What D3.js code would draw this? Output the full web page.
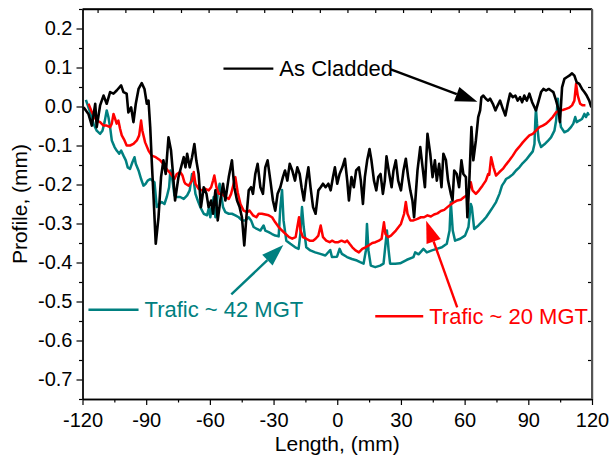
<!DOCTYPE html>
<html>
<head>
<meta charset="utf-8">
<script src="https://cdn.jsdelivr.net/npm/d3@7"></script>
<style>
  body { margin: 0; background: #fff; }
  svg text { font-family: "Liberation Sans", Arial, Helvetica, sans-serif; }
</style>
</head>
<body>
<div id="chart"></div>
<script>
// profile measurements, [length mm, profile mm]
const asCladded = [
  [-119.5,-0.002],[-117.2,-0.019],[-115.6,-0.049],[-114.0,0.007],[-113.3,-0.053],[-111.7,0.003],
  [-110.1,0.028],[-108.6,0.007],[-107.0,0.037],[-105.4,0.033],[-103.9,0.041],[-101.8,0.054],
  [-100.7,0.037],[-99.2,0.033],[-98.4,-0.015],[-97.1,-0.002],[-96.0,-0.040],[-94.9,0.007],
  [-93.6,0.045],[-92.1,0.060],[-90.8,0.045],[-89.7,0.007],[-88.9,0.015],[-88.1,-0.053],
  [-87.4,-0.138],[-86.6,-0.224],[-85.5,-0.352],[-84.2,-0.284],[-83.0,-0.181],[-81.9,-0.138],
  [-80.8,-0.173],[-79.5,-0.079],[-78.3,-0.113],[-77.5,-0.164],[-76.4,-0.241],[-74.8,-0.181],
  [-73.3,-0.150],[-72.3,-0.130],[-71.5,-0.156],[-70.7,-0.121],[-69.5,-0.156],[-68.4,-0.130],
  [-67.3,-0.096],[-66.4,-0.138],[-65.3,-0.173],[-64.2,-0.258],[-62.9,-0.207],[-61.6,-0.224],
  [-60.6,-0.258],[-59.4,-0.241],[-58.5,-0.275],[-57.4,-0.215],[-56.3,-0.292],[-55.1,-0.241],
  [-53.8,-0.198],[-52.7,-0.241],[-51.1,-0.181],[-49.6,-0.138],[-48.5,-0.207],[-47.2,-0.241],
  [-46.0,-0.258],[-44.9,-0.284],[-43.8,-0.356],[-42.8,-0.284],[-41.7,-0.215],[-40.6,-0.207],
  [-39.7,-0.224],[-38.6,-0.173],[-37.5,-0.147],[-36.2,-0.207],[-35.0,-0.224],[-33.9,-0.156],
  [-32.8,-0.138],[-31.5,-0.190],[-30.3,-0.241],[-29.2,-0.267],[-28.1,-0.224],[-26.8,-0.207],
  [-25.6,-0.181],[-24.6,-0.164],[-23.5,-0.190],[-22.4,-0.147],[-21.2,-0.164],[-19.9,-0.190],
  [-18.8,-0.156],[-17.7,-0.173],[-16.8,-0.207],[-15.7,-0.241],[-14.6,-0.190],[-13.6,-0.156],
  [-12.6,-0.207],[-11.4,-0.258],[-10.2,-0.275],[-8.9,-0.215],[-7.8,-0.207],[-6.7,-0.198],
  [-5.5,-0.207],[-4.2,-0.198],[-3.1,-0.215],[-2.0,-0.181],[-1.1,-0.156],[0.0,-0.198],
  [1.1,-0.173],[2.4,-0.156],[3.6,-0.134],[4.7,-0.190],[5.5,-0.241],[6.7,-0.181],
  [7.8,-0.207],[8.9,-0.164],[10.2,-0.156],[11.1,-0.190],[12.1,-0.250],[13.0,-0.181],
  [14.1,-0.138],[15.2,-0.109],[16.1,-0.138],[17.3,-0.190],[18.4,-0.215],[19.3,-0.181],
  [20.4,-0.173],[21.5,-0.224],[22.4,-0.190],[23.2,-0.128],[24.5,-0.173],[25.6,-0.207],
  [26.5,-0.164],[27.6,-0.138],[28.7,-0.190],[30.0,-0.215],[31.2,-0.164],[32.3,-0.134],
  [33.4,-0.181],[34.4,-0.215],[35.4,-0.241],[36.2,-0.284],[37.0,-0.224],[37.8,-0.164],
  [39.1,-0.104],[40.2,-0.156],[41.3,-0.207],[42.5,-0.070],[43.8,-0.121],[44.9,-0.181],
  [46.0,-0.138],[46.9,-0.190],[48.0,-0.147],[49.1,-0.207],[50.0,-0.121],[51.2,-0.138],
  [52.2,-0.190],[53.5,-0.224],[54.3,-0.241],[55.1,-0.164],[56.3,-0.173],[57.4,-0.207],
  [58.5,-0.138],[59.4,-0.173],[60.6,-0.181],[61.3,-0.284],[62.1,-0.207],[63.2,-0.053],
  [64.1,-0.138],[65.3,-0.087],[66.4,-0.027],[67.3,-0.010],[67.9,0.024],[68.8,0.028],
  [70.0,0.020],[71.1,0.015],[72.0,0.020],[73.3,0.007],[74.5,-0.010],[75.6,0.003],
  [76.7,0.015],[78.0,-0.006],[79.2,-0.023],[80.3,0.007],[81.4,0.033],[82.7,0.024],
  [83.9,0.028],[85.0,0.015],[86.1,0.024],[87.1,0.011],[88.1,0.028],[89.3,0.015],
  [90.5,0.033],[91.8,0.011],[92.9,-0.002],[93.6,-0.010],[94.9,0.015],[96.0,0.037],
  [97.1,0.045],[98.4,0.041],[99.6,0.045],[100.7,0.041],[101.8,0.037],[103.1,0.015],
  [104.3,-0.010],[104.9,-0.040],[105.9,0.049],[107.0,0.071],[108.1,0.075],[109.3,0.079],
  [110.6,0.085],[111.7,0.079],[112.8,0.062],[114.0,0.058],[115.3,0.045],[116.4,0.037],
  [117.5,0.028],[118.7,0.015],[119.7,-0.002]
];

const trafic20 = [
  [-117.2,0.007],[-115.9,-0.010],[-114.8,-0.023],[-113.3,-0.036],[-111.7,-0.040],[-110.1,-0.049],
  [-108.6,-0.049],[-107.0,-0.053],[-106.2,-0.044],[-105.4,-0.019],[-104.6,-0.032],[-103.9,-0.044],
  [-103.1,-0.036],[-102.3,-0.057],[-101.5,-0.074],[-100.2,-0.087],[-99.2,-0.100],[-97.6,-0.100],
  [-96.0,-0.096],[-94.4,-0.087],[-93.3,-0.074],[-92.4,-0.036],[-91.8,-0.062],[-90.5,-0.092],
  [-88.9,-0.113],[-87.4,-0.126],[-85.5,-0.130],[-83.4,-0.138],[-81.9,-0.147],[-79.9,-0.164],
  [-78.3,-0.173],[-76.7,-0.186],[-75.6,-0.173],[-74.0,-0.168],[-72.9,-0.177],[-72.0,-0.194],
  [-71.5,-0.198],[-70.0,-0.203],[-68.4,-0.190],[-67.6,-0.168],[-66.8,-0.198],[-65.3,-0.211],
  [-63.7,-0.215],[-62.1,-0.211],[-60.6,-0.215],[-59.4,-0.207],[-58.5,-0.190],[-57.9,-0.177],
  [-56.9,-0.207],[-55.8,-0.224],[-54.3,-0.224],[-52.7,-0.232],[-51.1,-0.237],[-50.0,-0.224],
  [-48.8,-0.198],[-48.0,-0.181],[-46.9,-0.220],[-45.6,-0.250],[-44.1,-0.267],[-42.5,-0.271],
  [-41.3,-0.267],[-39.7,-0.279],[-38.1,-0.284],[-37.0,-0.275],[-35.5,-0.275],[-33.9,-0.277],
  [-32.3,-0.279],[-30.7,-0.284],[-29.2,-0.297],[-27.6,-0.309],[-26.0,-0.318],[-24.3,-0.327],
  [-22.7,-0.335],[-21.2,-0.339],[-19.6,-0.335],[-18.8,-0.309],[-18.0,-0.284],[-17.3,-0.318],
  [-16.2,-0.335],[-14.6,-0.339],[-13.0,-0.344],[-11.4,-0.344],[-10.2,-0.339],[-8.9,-0.331],
  [-7.8,-0.305],[-6.7,-0.335],[-5.2,-0.344],[-3.6,-0.348],[-2.4,-0.344],[-1.1,-0.348],
  [0.5,-0.348],[2.0,-0.344],[3.6,-0.348],[4.7,-0.344],[5.8,-0.352],[7.1,-0.361],
  [8.6,-0.369],[10.2,-0.374],[11.8,-0.365],[13.3,-0.361],[14.9,-0.356],[16.5,-0.350],
  [18.0,-0.348],[19.6,-0.344],[20.9,-0.339],[22.0,-0.297],[22.7,-0.327],[24.0,-0.335],
  [25.3,-0.331],[27.6,-0.318],[30.0,-0.301],[31.5,-0.275],[32.3,-0.245],[33.1,-0.275],
  [34.4,-0.292],[35.9,-0.292],[37.8,-0.288],[39.4,-0.284],[40.9,-0.284],[42.5,-0.279],
  [44.1,-0.282],[45.6,-0.277],[47.2,-0.274],[48.8,-0.268],[50.4,-0.265],[51.9,-0.258],
  [53.5,-0.251],[55.1,-0.245],[56.6,-0.241],[58.2,-0.239],[59.8,-0.232],[61.0,-0.228],
  [62.1,-0.211],[62.9,-0.194],[63.7,-0.215],[65.3,-0.224],[66.8,-0.215],[68.4,-0.203],
  [70.0,-0.190],[71.1,-0.173],[71.6,-0.175],[72.5,-0.130],[73.6,-0.156],[74.8,-0.177],
  [76.4,-0.168],[78.0,-0.160],[79.5,-0.149],[81.1,-0.138],[82.7,-0.126],[84.2,-0.113],
  [85.8,-0.103],[87.4,-0.092],[88.9,-0.083],[90.5,-0.074],[92.1,-0.070],[93.6,-0.062],
  [95.2,-0.053],[96.8,-0.049],[98.4,-0.044],[99.9,-0.036],[101.5,-0.027],[103.1,-0.015],
  [104.6,-0.010],[106.2,-0.009],[107.8,-0.006],[109.3,-0.003],[110.6,0.003],[111.7,0.015],
  [112.5,0.058],[113.3,0.028],[114.4,0.007],[115.6,0.003],[116.9,0.003]
];

const trafic42 = [
  [-118.4,0.017],[-117.2,-0.002],[-115.9,-0.023],[-114.8,-0.044],[-113.3,-0.062],[-111.7,-0.070],
  [-110.6,-0.062],[-109.6,-0.040],[-108.6,-0.010],[-107.8,-0.027],[-107.0,-0.053],[-106.2,-0.087],
  [-104.9,-0.104],[-103.9,-0.113],[-102.7,-0.121],[-101.8,-0.113],[-100.7,-0.126],[-99.6,-0.138],
  [-98.7,-0.156],[-97.6,-0.160],[-96.5,-0.143],[-95.5,-0.130],[-94.9,-0.147],[-93.6,-0.164],
  [-92.4,-0.186],[-91.3,-0.203],[-90.2,-0.198],[-89.3,-0.190],[-88.1,-0.186],[-87.1,-0.190],
  [-86.1,-0.194],[-85.0,-0.258],[-83.9,-0.250],[-82.7,-0.245],[-81.4,-0.250],[-80.3,-0.232],
  [-79.2,-0.207],[-78.6,-0.164],[-77.6,-0.190],[-76.7,-0.228],[-75.6,-0.232],[-74.0,-0.232],
  [-72.3,-0.237],[-70.7,-0.228],[-69.5,-0.215],[-68.4,-0.173],[-67.6,-0.190],[-66.8,-0.224],
  [-65.7,-0.241],[-64.5,-0.258],[-62.9,-0.275],[-61.3,-0.279],[-60.4,-0.258],[-59.8,-0.284],
  [-59.0,-0.258],[-58.2,-0.232],[-57.4,-0.284],[-56.3,-0.224],[-55.4,-0.198],[-54.7,-0.224],
  [-53.8,-0.258],[-52.7,-0.271],[-51.1,-0.275],[-49.6,-0.275],[-48.0,-0.279],[-46.4,-0.284],
  [-44.9,-0.292],[-43.3,-0.292],[-41.7,-0.284],[-40.6,-0.292],[-39.4,-0.309],[-37.8,-0.314],
  [-36.2,-0.318],[-34.7,-0.305],[-33.9,-0.318],[-32.3,-0.322],[-30.7,-0.327],[-29.2,-0.331],
  [-27.6,-0.333],[-26.8,-0.258],[-26.0,-0.214],[-25.3,-0.292],[-24.0,-0.344],[-22.1,-0.352],
  [-19.8,-0.361],[-18.2,-0.365],[-17.4,-0.327],[-16.6,-0.258],[-15.8,-0.309],[-14.6,-0.361],
  [-12.7,-0.369],[-10.4,-0.374],[-8.0,-0.378],[-5.6,-0.382],[-3.3,-0.368],[-2.5,-0.386],
  [-0.1,-0.385],[1.1,-0.365],[2.2,-0.378],[4.6,-0.386],[6.9,-0.391],[9.3,-0.395],
  [10.8,-0.399],[12.4,-0.403],[13.5,-0.369],[14.0,-0.301],[14.7,-0.369],[15.8,-0.408],
  [17.9,-0.412],[20.2,-0.408],[21.8,-0.403],[23.4,-0.318],[24.2,-0.369],[24.9,-0.403],
  [27.3,-0.403],[29.6,-0.402],[32.8,-0.393],[35.9,-0.386],[36.7,-0.374],[38.3,-0.379],
  [40.6,-0.365],[42.2,-0.374],[44.6,-0.369],[46.9,-0.365],[49.3,-0.361],[51.6,-0.352],
  [52.9,-0.318],[53.5,-0.245],[54.4,-0.318],[55.5,-0.344],[57.9,-0.339],[60.2,-0.331],
  [61.8,-0.309],[62.9,-0.250],[63.4,-0.258],[64.5,-0.314],[66.5,-0.305],[68.8,-0.292],
  [70.1,-0.284],[71.7,-0.271],[73.3,-0.258],[74.8,-0.245],[76.4,-0.224],[77.6,-0.203],
  [78.7,-0.194],[79.5,-0.186],[81.1,-0.181],[82.7,-0.174],[84.2,-0.164],[85.8,-0.156],
  [87.4,-0.145],[88.9,-0.137],[90.5,-0.126],[92.1,-0.115],[92.9,-0.096],[93.3,-0.036],
  [93.6,-0.006],[94.1,-0.044],[94.9,-0.087],[96.0,-0.104],[97.6,-0.097],[99.1,-0.089],
  [100.7,-0.079],[102.3,-0.062],[103.1,-0.036],[103.9,0.020],[104.6,-0.027],[105.4,-0.053],
  [107.0,-0.066],[108.6,-0.062],[110.1,-0.053],[111.2,-0.044],[112.1,-0.027],[112.8,-0.040],
  [114.0,-0.036],[115.3,-0.032],[116.4,-0.019],[117.2,-0.027],[118.0,-0.017],[118.5,-0.023]
];

const xTicks = [-120, -90, -60, -30, 0, 30, 60, 90, 120];
const xMinor = [-105, -75, -45, -15, 15, 45, 75, 105];
const yTicks = [-0.7, -0.6, -0.5, -0.4, -0.3, -0.2, -0.1, 0.0, 0.1, 0.2];
const yMinor = [-0.75, -0.65, -0.55, -0.45, -0.35, -0.25, -0.15, -0.05, 0.05, 0.15, 0.25];
const topTicks = [-112.9, -99.8, -86.7, -73.6, -60.6, -47.5, -34.4, -21.3, -8.2, 4.8, 17.9, 31.0, 44.1, 57.2, 70.3, 83.4, 96.5, 109.6];
const rightTicks = [0.15, 0.05, -0.05, -0.15, -0.25, -0.35, -0.45, -0.55, -0.65];

// labels: name, colour, legend line [x0, x1, y], arrow [tail x, tail y, tip x, tip y] (data units)
const notes = [
  { name: "As Cladded", color: "#000000", key: [-53.6, -30.1, 0.097], arrow: [25.2, 0.095, 66.0, 0.012] },
  { name: "Trafic ~ 42 MGT", color: "#008080", key: [-117.2, -93.6, -0.521], arrow: [-49.9, -0.482, -25.4, -0.355] },
  { name: "Trafic ~ 20 MGT", color: "#ff0000", key: [17.9, 40.5, -0.538], arrow: [56.5, -0.515, 41.9, -0.293] }
];

const width = 611, height = 460;
const x = d3.scaleLinear().domain([-120, 120]).range([82.5, 592]);
const y = d3.scaleLinear().domain([-0.75, 0.25]).range([399, 9]);

const svg = d3.select("#chart").append("svg")
  .attr("width", width).attr("height", height);

// axes
svg.append("g").attr("transform", `translate(0,${y(-0.75)})`)
  .call(d3.axisBottom(x).tickValues(xTicks).tickSize(6).tickSizeOuter(0).tickPadding(8).tickFormat(d => String(d)));
svg.append("g").attr("transform", `translate(0,${y(-0.75)})`)
  .call(d3.axisBottom(x).tickValues(xMinor).tickSize(3.5).tickSizeOuter(0).tickFormat(""));
svg.append("g").attr("transform", `translate(${x(-120)},0)`)
  .call(d3.axisLeft(y).tickValues(yTicks).tickSize(6).tickSizeOuter(0).tickPadding(4).tickFormat(d => d.toFixed(1)));
svg.append("g").attr("transform", `translate(${x(-120)},0)`)
  .call(d3.axisLeft(y).tickValues(yMinor).tickSize(3.5).tickSizeOuter(0).tickFormat(""));
svg.append("g").attr("transform", `translate(0,${y(0.25)})`)
  .call(d3.axisBottom(x).tickValues(topTicks).tickSize(4).tickSizeOuter(0).tickFormat(""));
svg.append("g").attr("transform", `translate(${x(120)},0)`)
  .call(d3.axisLeft(y).tickValues(rightTicks).tickSize(4).tickSizeOuter(0).tickFormat(""));

svg.selectAll(".domain").attr("stroke", "#000").attr("stroke-width", 1.3);
svg.selectAll(".tick line").attr("stroke", "#000").attr("stroke-width", 1.2);
svg.selectAll(".tick text").attr("font-size", 20).attr("fill", "#000")
  .style("font-family", '"Liberation Sans", Arial, sans-serif');

// axis titles
svg.append("text").attr("x", x(0)).attr("y", 451).attr("text-anchor", "middle")
  .attr("font-size", 21).text("Length, (mm)");
svg.append("text").attr("transform", `translate(27,${y(-0.25)}) rotate(-90)`)
  .attr("text-anchor", "middle").attr("font-size", 21).text("Profile, (mm)");

// data lines
const line = d3.line().x(d => x(d[0])).y(d => y(d[1]));
const plot = svg.append("g");
plot.append("path").datum(trafic42).attr("d", line)
  .attr("fill", "none").attr("stroke", "#008080").attr("stroke-width", 2.5).attr("stroke-linejoin", "round");
plot.append("path").datum(trafic20).attr("d", line)
  .attr("fill", "none").attr("stroke", "#ff0000").attr("stroke-width", 2.5).attr("stroke-linejoin", "round");
plot.append("path").datum(asCladded).attr("d", line)
  .attr("fill", "none").attr("stroke", "#000").attr("stroke-width", 2.6).attr("stroke-linejoin", "round");

// annotations
notes.forEach(n => {
  const g = svg.append("g");
  g.append("line")
    .attr("x1", x(n.key[0])).attr("x2", x(n.key[1]))
    .attr("y1", y(n.key[2])).attr("y2", y(n.key[2]))
    .attr("stroke", n.color).attr("stroke-width", 2.4);
  g.append("text")
    .attr("x", x(n.key[1]) + 6).attr("y", y(n.key[2])).attr("dy", "0.35em")
    .attr("font-size", 22).attr("fill", n.color).text(n.name);

  // arrow with filled head
  const [ax0, ay0, ax1, ay1] = [x(n.arrow[0]), y(n.arrow[1]), x(n.arrow[2]), y(n.arrow[3])];
  const ang = Math.atan2(ay1 - ay0, ax1 - ax0);
  const hl = 22, hw = 7.5;
  const bx = ax1 - hl * Math.cos(ang), by = ay1 - hl * Math.sin(ang);
  g.append("line").attr("x1", ax0).attr("y1", ay0).attr("x2", bx).attr("y2", by)
    .attr("stroke", n.color).attr("stroke-width", 2.4);
  const pts = [
    [ax1, ay1],
    [bx + hw * Math.sin(ang), by - hw * Math.cos(ang)],
    [bx - hw * Math.sin(ang), by + hw * Math.cos(ang)]
  ];
  g.append("polygon").attr("points", pts.map(p => p.join(",")).join(" ")).attr("fill", n.color);
});

// top/right frame lines
svg.append("line").attr("x1", x(-120)).attr("x2", x(120)).attr("y1", y(0.25)).attr("y2", y(0.25))
  .attr("stroke", "#000").attr("stroke-width", 1.3);
svg.append("line").attr("x1", x(120)).attr("x2", x(120)).attr("y1", y(0.25)).attr("y2", y(-0.75))
  .attr("stroke", "#555").attr("stroke-width", 2);
</script>
</body>
</html>
